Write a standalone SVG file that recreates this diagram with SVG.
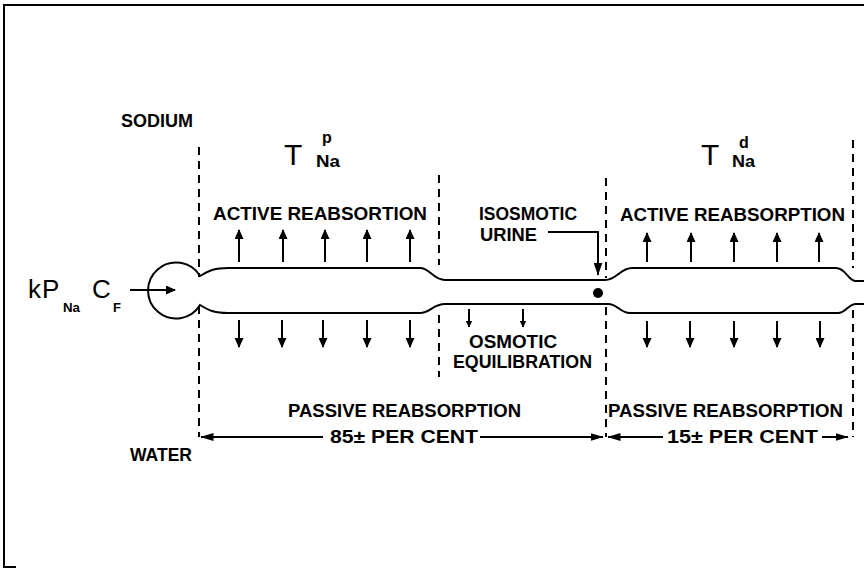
<svg xmlns="http://www.w3.org/2000/svg" width="864" height="569" viewBox="0 0 864 569">
<style>
.ln{stroke:#000;stroke-width:2;fill:none}
.ds{stroke:#000;stroke-width:2;fill:none;stroke-dasharray:8 6}
.lb{font-family:"Liberation Sans",Arial,sans-serif;font-weight:bold;font-size:18px;fill:#000}
.big{font-family:"Liberation Sans",Arial,sans-serif;font-size:30px;fill:#000}
.mid{font-family:"Liberation Sans",Arial,sans-serif;font-size:26px;fill:#000}
.sb{font-family:"Liberation Sans",Arial,sans-serif;font-weight:bold;font-size:16px;fill:#000}
.ss{font-family:"Liberation Sans",Arial,sans-serif;font-weight:bold;font-size:13px;fill:#000}
</style>
<defs>
<marker id="ah" viewBox="0 0 10 9" refX="9" refY="4.5" markerWidth="10" markerHeight="9" markerUnits="userSpaceOnUse" orient="auto"><path d="M0,0 L10,4.5 L0,9 z" fill="#000"/></marker>
<marker id="ahs" viewBox="0 0 7 7" refX="6.5" refY="3.5" markerWidth="7" markerHeight="7" markerUnits="userSpaceOnUse" orient="auto"><path d="M0,0 L7,3.5 L0,7 z" fill="#000"/></marker>
<marker id="ahh" viewBox="0 0 13 8" refX="12.5" refY="4" markerWidth="13" markerHeight="8" markerUnits="userSpaceOnUse" orient="auto"><path d="M0,0 L13,4 L0,8 z" fill="#000"/></marker>
<marker id="ahl" viewBox="0 0 13 9" refX="12.5" refY="4.5" markerWidth="13" markerHeight="9" markerUnits="userSpaceOnUse" orient="auto"><path d="M0,0 L13,4.5 L0,9 z" fill="#000"/></marker>
</defs>
<rect x="0" y="0" width="864" height="569" fill="#fff"/>
<g id="frame"><path class="ln" d="M864,5 H4 V567 H16"/></g>
<g id="tube">
<path class="ln" d="M228,268 C215,268 210,270 200,276 A28,28 0 1 0 200,305 C210,311 215,313 228,313"/>
<path class="ln" d="M228,268 H420 C430,268 433,280 445,280 H605 C617,280 620,268 632,268 H836 C846,268 848,281 856,281 H864"/>
<path class="ln" d="M228,313 H420 C430,313 433,304 445,304 H608 C618,304 620,313 630,313 H838 C846,313 848,304 856,304 H864"/>
<circle cx="598" cy="293" r="5" fill="#000"/>
</g>
<g id="boundaries">
<path class="ds" d="M199,147 V277 M199,306 V437"/>
<path class="ds" d="M439,175 V265 M439,315 V377"/>
<path class="ds" d="M606,178 V278 M606,307 V437"/>
<path class="ds" d="M853,140 V268 M853,310 V437"/>
</g>
<g id="labels">
<text class="lb" x="121" y="127" textLength="72" lengthAdjust="spacingAndGlyphs">SODIUM</text>
<text class="lb" x="130" y="461" textLength="62" lengthAdjust="spacingAndGlyphs">WATER</text>
<g id="tnap"><text class="big" x="284" y="165">T</text><text class="sb" x="322" y="143">p</text><text class="sb" x="316" y="167" textLength="24" lengthAdjust="spacingAndGlyphs">Na</text></g>
<g id="tnad"><text class="big" x="701" y="165">T</text><text class="sb" x="739" y="148">d</text><text class="sb" x="732" y="167" textLength="23" lengthAdjust="spacingAndGlyphs">Na</text></g>
<g id="input"><text class="mid" x="28" y="298">k</text><text class="mid" x="42" y="298">P</text><text class="ss" x="63" y="312" textLength="17" lengthAdjust="spacingAndGlyphs">Na</text><text class="mid" x="92" y="298">C</text><text class="ss" x="113" y="312">F</text></g>
<text class="lb" x="213" y="220" textLength="214" lengthAdjust="spacingAndGlyphs">ACTIVE  REABSORTION</text>
<text class="lb" x="479" y="220" textLength="98" lengthAdjust="spacingAndGlyphs">ISOSMOTIC</text>
<text class="lb" x="480" y="241" textLength="57" lengthAdjust="spacingAndGlyphs">URINE</text>
<text class="lb" x="620" y="221" textLength="225" lengthAdjust="spacingAndGlyphs">ACTIVE  REABSORPTION</text>
<text class="lb" x="469" y="348" textLength="88" lengthAdjust="spacingAndGlyphs">OSMOTIC</text>
<text class="lb" x="453" y="368" textLength="139" lengthAdjust="spacingAndGlyphs">EQUILIBRATION</text>
<text class="lb" x="288" y="417" textLength="233" lengthAdjust="spacingAndGlyphs">PASSIVE  REABSORPTION</text>
<text class="lb" x="608" y="417" textLength="235" lengthAdjust="spacingAndGlyphs">PASSIVE  REABSORPTION</text>
<text class="lb" x="330" y="443" textLength="148" lengthAdjust="spacingAndGlyphs">85± PER CENT</text>
<text class="lb" x="667" y="443" textLength="151" lengthAdjust="spacingAndGlyphs">15± PER CENT</text>
</g>
<g id="connectors">
<line class="ln" x1="130" y1="290" x2="175" y2="290" marker-end="url(#ah)"/>
<line class="ln" x1="239" y1="262" x2="239" y2="230" marker-end="url(#ah)"/>
<line class="ln" x1="283" y1="262" x2="283" y2="230" marker-end="url(#ah)"/>
<line class="ln" x1="325" y1="262" x2="325" y2="230" marker-end="url(#ah)"/>
<line class="ln" x1="367" y1="262" x2="367" y2="230" marker-end="url(#ah)"/>
<line class="ln" x1="410" y1="262" x2="410" y2="230" marker-end="url(#ah)"/>
<line class="ln" x1="647" y1="262" x2="647" y2="233" marker-end="url(#ah)"/>
<line class="ln" x1="691" y1="262" x2="691" y2="233" marker-end="url(#ah)"/>
<line class="ln" x1="734" y1="262" x2="734" y2="233" marker-end="url(#ah)"/>
<line class="ln" x1="777" y1="262" x2="777" y2="233" marker-end="url(#ah)"/>
<line class="ln" x1="819" y1="262" x2="819" y2="233" marker-end="url(#ah)"/>
<line class="ln" x1="239" y1="320" x2="239" y2="347" marker-end="url(#ah)"/>
<line class="ln" x1="282" y1="320" x2="282" y2="347" marker-end="url(#ah)"/>
<line class="ln" x1="323" y1="320" x2="323" y2="347" marker-end="url(#ah)"/>
<line class="ln" x1="367" y1="320" x2="367" y2="347" marker-end="url(#ah)"/>
<line class="ln" x1="410" y1="320" x2="410" y2="347" marker-end="url(#ah)"/>
<line class="ln" x1="647" y1="321" x2="647" y2="347" marker-end="url(#ah)"/>
<line class="ln" x1="690" y1="321" x2="690" y2="347" marker-end="url(#ah)"/>
<line class="ln" x1="734" y1="321" x2="734" y2="347" marker-end="url(#ah)"/>
<line class="ln" x1="777" y1="321" x2="777" y2="347" marker-end="url(#ah)"/>
<line class="ln" x1="820" y1="321" x2="820" y2="347" marker-end="url(#ah)"/>
<line class="ln" x1="469" y1="309" x2="469" y2="327" marker-end="url(#ahs)"/>
<line class="ln" x1="523" y1="309" x2="523" y2="327" marker-end="url(#ahs)"/>
<path class="ln" d="M548,232 H598 V275" marker-end="url(#ahl)"/>
<line class="ln" x1="323" y1="437" x2="201" y2="437" marker-end="url(#ahh)"/>
<line class="ln" x1="480" y1="437" x2="603" y2="437" marker-end="url(#ahh)"/>
<line class="ln" x1="663" y1="437" x2="608" y2="437" marker-end="url(#ahh)"/>
<line class="ln" x1="822" y1="437" x2="848" y2="437" marker-end="url(#ahh)"/>
</g>
</svg>
